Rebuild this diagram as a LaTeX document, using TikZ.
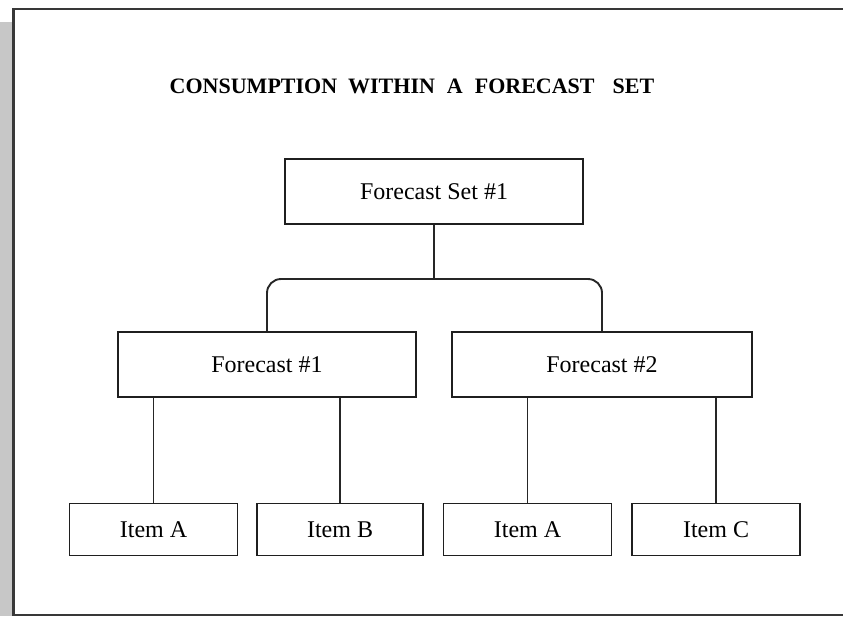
\documentclass[tikz,border=0pt]{standalone}
\usepackage{fontspec}
\setmainfont{Liberation Serif}
\begin{document}
\begin{tikzpicture}[x=1pt,y=-1pt,
  box/.style={draw=black!88,line width=1.9pt,fill=white,inner sep=0pt,
    font=\fontsize{24}{26}\selectfont},
  topbox/.style={box,minimum width=298pt,minimum height=65pt},
  midbox/.style={box,minimum width=298pt,minimum height=65pt},
  itembox/.style={box,minimum width=168pt,minimum height=52pt},
  conn/.style={draw=black!85,line width=1.9pt}]
\useasboundingbox (0,0) rectangle (843,616);
% drop shadow on the left and the frame
\fill[black!22] (0,22) rectangle (12,616);
\draw[black!78,line width=2.4pt] (843,9) -- (13.5,9) -- (13.5,614.8) -- (843,614.8);
% title
\node[anchor=base,font=\bfseries\fontsize{22}{24}\selectfont] (title) at (412,93)
  {CONSUMPTION\hspace{11pt}WITHIN\hspace{12pt}A\hspace{12pt}FORECAST\hspace{18pt}SET};
% boxes
\node[topbox] (fs) at (434,191.5) {Forecast Set \#1};
\node[midbox] (f1) at (267,364.5) {Forecast \#1};
\node[midbox,minimum width=300pt] (f2) at (602,364.5) {Forecast \#2};
\node[itembox] (i1) at (153.5,529.5) {Item A};
\node[itembox,minimum width=166pt] (i2) at (340,529.5) {Item B};
\node[itembox] (i3) at (527.5,529.5) {Item A};
\node[itembox] (i4) at (716,529.5) {Item C};
% connectors
\coordinate (bus) at (434,279);
\draw[conn] (fs.south) -- (bus);
\draw[conn,rounded corners=14pt] (f1.north) |- (bus) -| (f2.north);
\draw[conn] (i1.north) -- (i1.north |- f1.south);
\draw[conn] (i2.north) -- (i2.north |- f1.south);
\draw[conn] (i3.north) -- (i3.north |- f2.south);
\draw[conn] (i4.north) -- (i4.north |- f2.south);
\end{tikzpicture}
\end{document}
